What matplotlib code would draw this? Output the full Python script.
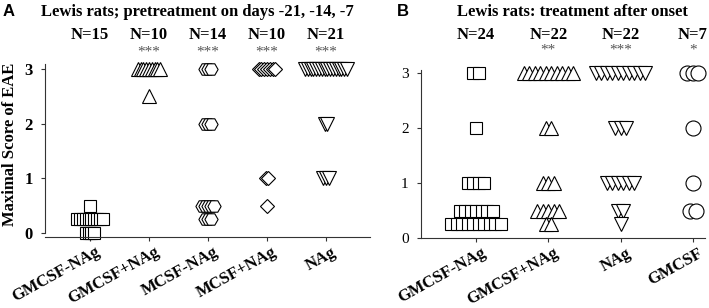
import numpy as np
import matplotlib.pyplot as plt
import matplotlib.transforms as mtransforms

plt.rcParams['font.family'] = ['Liberation Serif', 'DejaVu Serif']

# Panel A: pretreatment
a_groups = ["GMCSF-NAg", "GMCSF+NAg", "MCSF-NAg", "MCSF+NAg", "NAg"]
a_n = ["N=15", "N=10", "N=14", "N=10", "N=21"]
a_stars = ["", "***", "***", "***", "***"]
a_levels = [[0.5, 0.25, 0], [3, 2.5], [3, 2, 0.5, 0.25], [3, 1, 0.5], [3, 2, 1]]
a_counts = [[1, 10, 4], [9, 1], [3, 3, 5, 3], [7, 2, 1], [16, 2, 3]]
a_markers = ["s", "^", "H", "D", "v"]

# Panel B: treatment after onset
b_groups = ["GMCSF-NAg", "GMCSF+NAg", "NAg", "GMCSF"]
b_n = ["N=24", "N=22", "N=22", "N=7"]
b_stars = ["", "**", "***", "*"]
b_levels = [[3, 2, 1, 0.5, 0.25], [3, 2, 1, 0.5, 0.25], [3, 2, 1, 0.5, 0.25], [3, 2, 1, 0.5]]
b_counts = [[2, 1, 4, 7, 10], [10, 2, 3, 5, 2], [10, 3, 6, 2, 1], [3, 1, 1, 2]]
b_markers = ["s", "^", "v", "o"]

msize = {"s": 8.6, "^": 10.5, "v": 10.5, "H": 9.5, "D": 7.0, "o": 10.8}

W, H = 709, 308
fig = plt.figure(figsize=(W / 100, H / 100), dpi=100)


def px_axes(l, r, b, t):
    return fig.add_axes([l / W, 1 - b / H, (r - l) / W, (b - t) / H])


def swarm(ax, levels, counts, markers, step):
    for i, (lv, ct, mk) in enumerate(zip(levels, counts, markers)):
        for y, n in zip(lv, ct):
            xs = i + 1 + (np.arange(n) - (n - 1) / 2) * step
            ax.plot(xs, np.full(n, y), linestyle="none", marker=mk,
                    ms=msize[mk], mfc="white", mec="black", mew=0.8,
                    clip_on=False)


def top_texts(ax, ns, stars, y_n, y_s):
    tr = mtransforms.blended_transform_factory(ax.transData, fig.transFigure)
    for i, (n, s) in enumerate(zip(ns, stars)):
        ax.text(i + 1, 1 - y_n / H, n, transform=tr, ha="center", va="center",
                fontsize=12, fontweight="bold")
        if s:
            ax.text(i + 1, 1 - y_s / H, s, transform=tr, ha="center",
                    va="center", fontsize=11, color="#555555")


def style(ax, groups, bold_y):
    for sp in ["top", "right"]:
        ax.spines[sp].set_visible(False)
    for sp in ["left", "bottom"]:
        ax.spines[sp].set_linewidth(0.8)
        ax.spines[sp].set_color("#333333")
    ax.set_xticks(range(1, len(groups) + 1))
    ax.set_xticklabels([])
    # rotated category labels, anchored just right of and below each tick
    tr = mtransforms.blended_transform_factory(ax.transData, ax.transAxes)
    off = mtransforms.ScaledTranslation(5 / 100, -7 / 100, fig.dpi_scale_trans)
    for i, g in enumerate(groups):
        ax.text(i + 1, 0, g, transform=tr + off, rotation=29, ha="right",
                va="top", rotation_mode="anchor", fontsize=12,
                fontweight="bold", clip_on=False)
    ax.set_yticks([0, 1, 2, 3])
    ax.tick_params(axis="both", direction="out", length=3, width=0.8,
                   color="#333333")
    ax.tick_params(axis="y", pad=6)
    for lab in ax.get_yticklabels():
        lab.set_fontsize(12 if bold_y else 11)
        lab.set_fontweight("bold" if bold_y else "normal")


# panel A
axa = px_axes(45, 370, 237, 63)
axa.set_xlim(1 - 45 / 59, 5 + 44 / 59)
axa.set_ylim(-4 / 54.7, 3 + 6 / 54.7)
swarm(axa, a_levels, a_counts, a_markers, 2.8 / 59)
style(axa, a_groups, True)
axa.spines["left"].set_bounds(0, 3.1)
top_texts(axa, a_n, a_stars, 35, 52)
fig.text(10 / W, 1 - 144 / H, "Maximal Score of EAE", rotation=90,
         ha="center", va="center", fontsize=12, fontweight="bold")

# panel B
axb = px_axes(421, 705, 238, 70)
axb.set_xlim(1 - 55 / 72.3, 4 + 12 / 72.3)
axb.set_ylim(0, 3 + 3 / 55)
swarm(axb, b_levels, b_counts, b_markers, 5.5 / 72.3)
style(axb, b_groups, False)
top_texts(axb, b_n, b_stars, 35, 50)

fig.text(197 / W, 1 - 12 / H, "Lewis rats; pretreatment on days -21, -14, -7",
         ha="center", va="center", fontsize=12, fontweight="bold")
fig.text(572 / W, 1 - 12 / H, "Lewis rats: treatment after onset",
         ha="center", va="center", fontsize=12, fontweight="bold")
fig.text(3 / W, 1 - 12 / H, "A", ha="left", va="center", fontsize=12,
         fontweight="bold", family="Liberation Sans")
fig.text(397 / W, 1 - 12 / H, "B", ha="left", va="center", fontsize=12,
         fontweight="bold", family="Liberation Sans")

fig.savefig("out.png", dpi=100)
